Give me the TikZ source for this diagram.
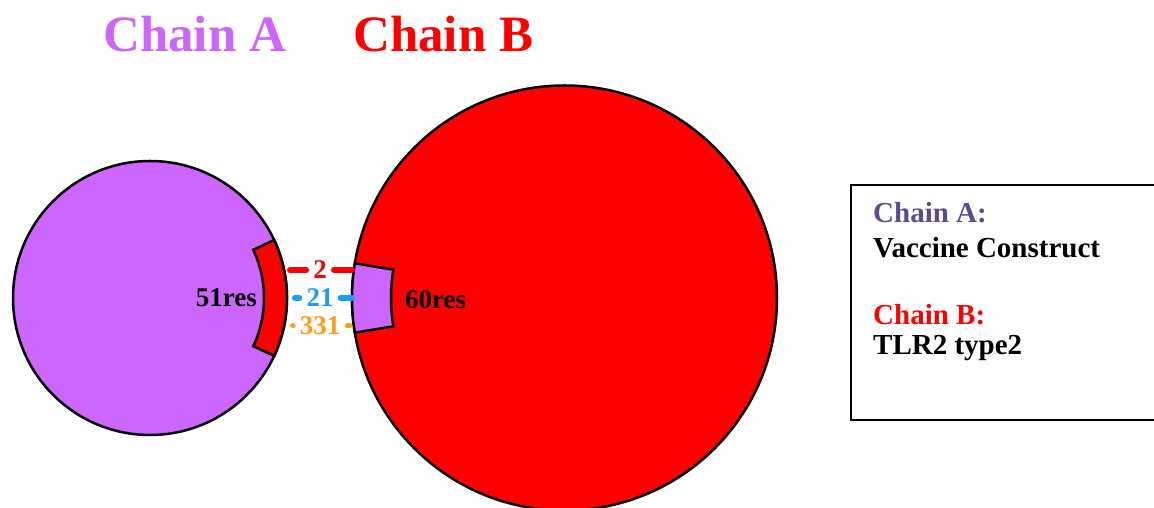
\documentclass[tikz,border=0pt]{standalone}
\usepackage{fontspec}
\setmainfont{Liberation Serif}
\usetikzlibrary{calc}
\definecolor{chainA}{HTML}{CC66FF}
\definecolor{chainB}{HTML}{FF0000}
\definecolor{legA}{HTML}{5F4B8B}
\definecolor{linkblue}{HTML}{1C9CFF}
\definecolor{linkorange}{HTML}{FF9E1B}
\tikzset{
  chaincircle/.style={circle, draw=black, line width=2.5pt, inner sep=0pt},
  patch/.style={draw=black, line width=2.5pt, line join=miter},
  title/.style={font=\fontsize{51}{56}\selectfont\bfseries, inner sep=0pt},
  reslabel/.style={font=\fontsize{27}{30}\selectfont\bfseries, inner sep=0pt, text=black},
  linklabel/.style={font=\fontsize{27}{30}\selectfont\bfseries, inner xsep=4pt, inner ysep=0pt},
  link/.style={line width=6pt, line cap=round},
  legtext/.style={font=\fontsize{29}{32}\selectfont\bfseries, inner sep=0pt, anchor=base west},
  legbox/.style={draw=black, line width=2pt}
}
\begin{document}
\begin{tikzpicture}[x=1pt,y=1pt]
\useasboundingbox (0,0) rectangle (1154,508);
\clip (0,0) rectangle (1154,508);
% titles
\node[title, text=chainA, anchor=base west] (tA) at (103,456) {Chain A};
\node[title, text=chainB, anchor=base west] (tB) at (353,456) {Chain B};
% circles
\node[chaincircle, fill=chainA, minimum size=274] (A) at (150,210) {};
\node[chaincircle, fill=chainB, minimum size=425] (B) at (564.5,210) {};
% interface patches
\draw[patch, fill=chainB] ($(A.center)+(-25:137)$) arc[start angle=-25, end angle=25, radius=137]
  -- ($(A.center)+(25:114)$) arc[start angle=25, end angle=-25, radius=114] -- cycle;
\draw[patch, fill=chainA] ($(B.center)+(170.6:212.5)$) arc[start angle=170.6, end angle=189.4, radius=212.5]
  -- ($(B.center)+(189.4:173.5)$) arc[start angle=189.4, end angle=170.6, radius=173.5] -- cycle;
% residue labels
\node[reslabel, anchor=east] (rA) at (257,210) {51res};
\node[reslabel, anchor=west] (rB) at (405,208) {60res};
% connectors
\coordinate (a1) at (290,238);
\coordinate (a2) at (295,210);
\coordinate (a3) at (293,182);
\coordinate (b1) at (352,238);
\coordinate (b2) at (352,210);
\coordinate (b3) at (350,182);
\node[linklabel, text=chainB] (l1) at (320,238) {2};
\node[linklabel, text=linkblue] (l2) at (320,210) {21};
\node[linklabel, text=linkorange] (l3) at (320,182) {331};
\draw[link, draw=chainB, shorten >=3pt] (a1) -- (l1);
\draw[link, draw=chainB, shorten <=3pt] (l1) -- (b1);
\draw[link, draw=linkblue, shorten >=3pt] (a2) -- (l2);
\draw[link, draw=linkblue, shorten <=3pt] (l2) -- (b2);
\draw[link, line width=5pt, draw=linkorange, shorten >=3pt] (a3) -- (l3);
\draw[link, line width=5pt, draw=linkorange, shorten <=3pt] (l3) -- (b3);
% legend
\draw[legbox] (851,323) rectangle (1165,88);
\node[legtext, text=legA] (lg1) at (873,285) {Chain A:};
\node[legtext, text=black] (lg2) at (873,250) {Vaccine Construct};
\node[legtext, text=chainB] (lg3) at (873,183) {Chain B:};
\node[legtext, text=black] (lg4) at (873,153) {TLR2 type2};
\end{tikzpicture}
\end{document}
